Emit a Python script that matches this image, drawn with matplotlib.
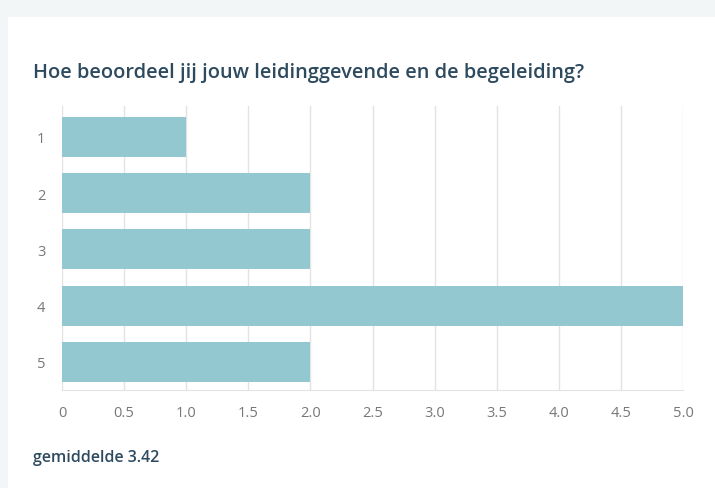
import matplotlib
matplotlib.use("Agg")
import matplotlib.pyplot as plt
from matplotlib.patches import Rectangle

# survey answers (rating -> number of responses)
categories = ["1", "2", "3", "4", "5"]
counts = [1, 2, 2, 5, 2]
x_ticks = [0, 0.5, 1.0, 1.5, 2.0, 2.5, 3.0, 3.5, 4.0, 4.5, 5.0]
x_tick_labels = ["0", "0.5", "1.0", "1.5", "2.0", "2.5", "3.0", "3.5", "4.0", "4.5", "5.0"]
title = "Hoe beoordeel jij jouw leidinggevende en de begeleiding?"
footer = "gemiddelde 3.42"

BAR_COLOR = "#93c8d0"
TEXT_DARK = "#2d4a5f"
GRID = "#e3e3e3"

plt.rcParams["font.family"] = ["Open Sans", "DejaVu Sans"]

fig = plt.figure(figsize=(7.15, 4.89), dpi=100)
fig.patch.set_facecolor("#f2f6f7")
# white card behind everything
card = Rectangle((8 / 715, 0), 1, (489 - 18) / 489, transform=fig.transFigure,
                 facecolor="white", edgecolor="none", zorder=-10)
fig.add_artist(card)

ax = fig.add_axes([62 / 715, 98 / 489, 621 / 715, 284 / 489])
ax.set_facecolor("white")
ypos = list(range(len(categories)))
ax.barh(ypos, counts, height=0.71, color=BAR_COLOR, zorder=2)
ax.set_ylim(len(categories) - 0.5, -0.55)
ax.set_xlim(0, 5)
ax.set_yticks(ypos)
ax.set_yticklabels(categories)
ax.set_xticks(x_ticks)
ax.set_xticklabels(x_tick_labels)
ax.grid(axis="x", color=GRID, linewidth=1, zorder=1)
ax.tick_params(axis="both", length=0, colors="#777777", labelsize=10.5)
ax.tick_params(axis="y", pad=12)
ax.tick_params(axis="x", pad=11)
for side in ["top", "right", "left"]:
    ax.spines[side].set_visible(False)
ax.spines["bottom"].set_color(GRID)

fig.text(33 / 715, 1 - 73 / 489, title, fontsize=14.4, fontweight="semibold",
         color=TEXT_DARK, va="center", ha="left")
fig.text(33 / 715, 1 - 458 / 489, footer, fontsize=11.5, fontweight="semibold",
         color=TEXT_DARK, va="center", ha="left")

fig.savefig("out.png", dpi=100, facecolor=fig.get_facecolor())
